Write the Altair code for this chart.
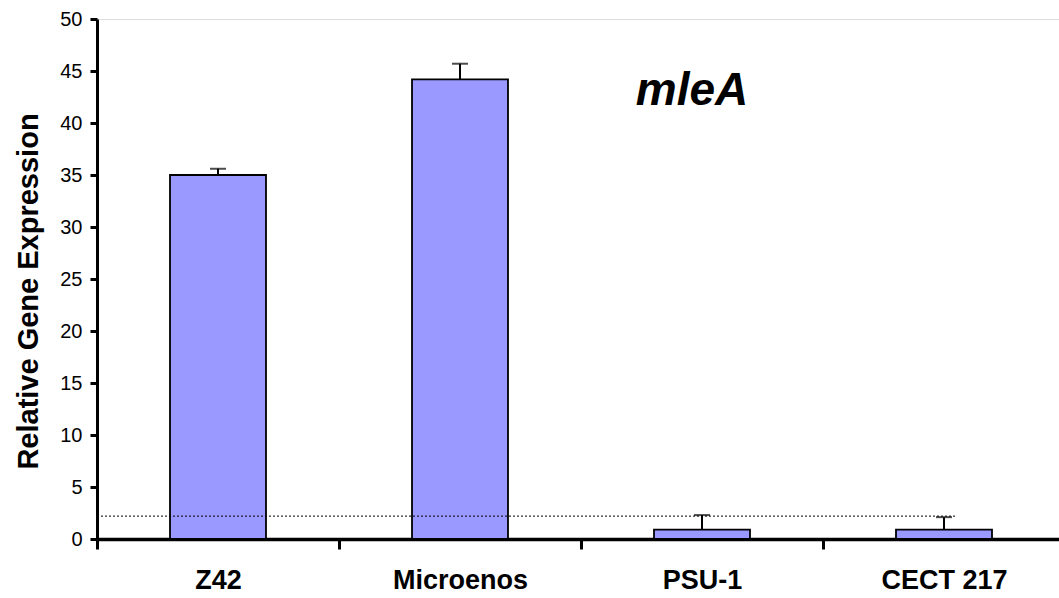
import altair as alt
import pandas as pd

categories = ["Z42", "Microenos", "PSU-1", "CECT 217"]
values = [35.0, 44.2, 0.9, 0.9]
upper = [35.6, 45.7, 2.3, 2.1]
threshold = 2.2
label = "mleA"

df = pd.DataFrame({"strain": categories, "value": values, "upper": upper})
FONT = "Liberation Sans"

x_enc = alt.X("strain:N", sort=categories, title=None,
              scale=alt.Scale(paddingInner=0, paddingOuter=0),
              axis=alt.Axis(labelAngle=0, labelFont=FONT, labelFontSize=27, labelFontWeight="bold",
                            labelColor="black", labelPadding=18, tickBand="extent",
                            tickSize=10, tickWidth=3, tickColor="black",
                            domainWidth=3.5, domainColor="black", grid=False))

y_enc = alt.Y("value:Q", title="Relative Gene Expression",
              scale=alt.Scale(domain=[0, 50], nice=False, zero=True),
              axis=alt.Axis(values=list(range(0, 51, 5)), labelFont=FONT, labelFontSize=20,
                            labelColor="black", labelPadding=8, tickSize=7, tickWidth=3,
                            tickColor="black", domainWidth=3, domainColor="black", grid=False,
                            titleFont=FONT, titleFontSize=29, titleFontWeight="bold",
                            titleColor="black", titleAngle=-90, titleX=-69, titleY=272,
                            titleAlign="center", titleBaseline="middle"))

base = alt.Chart(df)

bars = base.mark_bar(width=96, color="#9999FF", stroke="black", strokeWidth=1.8).encode(
    x=x_enc, y=y_enc)

err = base.mark_rule(color="black", strokeWidth=2).encode(
    x=alt.X("strain:N", sort=categories), y="value:Q", y2="upper:Q")

caps = base.mark_tick(color="black", thickness=2, size=16, orient="horizontal").encode(
    x=alt.X("strain:N", sort=categories), y="upper:Q")

dotted = alt.Chart(pd.DataFrame({"t": [threshold]})).mark_rule(
    color="black", strokeWidth=1, strokeDash=[2, 2]).encode(
    y="t:Q", x=alt.value(0), x2=alt.value(860))

title = alt.Chart(pd.DataFrame({"strain": ["PSU-1"], "y": [41.7], "t": [label]})).mark_text(
    font=FONT, fontSize=46, fontWeight="bold", fontStyle="italic", color="black",
    baseline="alphabetic", align="center", dx=-10).encode(
    x=alt.X("strain:N", sort=categories), y="y:Q", text="t:N")

chart = alt.layer(bars, dotted, err, caps, title).properties(
    width=968, height=520,
    autosize=alt.AutoSizeParams(type="none"),
    padding={"left": 97, "top": 19, "right": -6, "bottom": 59},
).configure_view(stroke=None).configure(background="white")

chart.save("out.html", embed_options={"renderer": "svg", "actions": False})
